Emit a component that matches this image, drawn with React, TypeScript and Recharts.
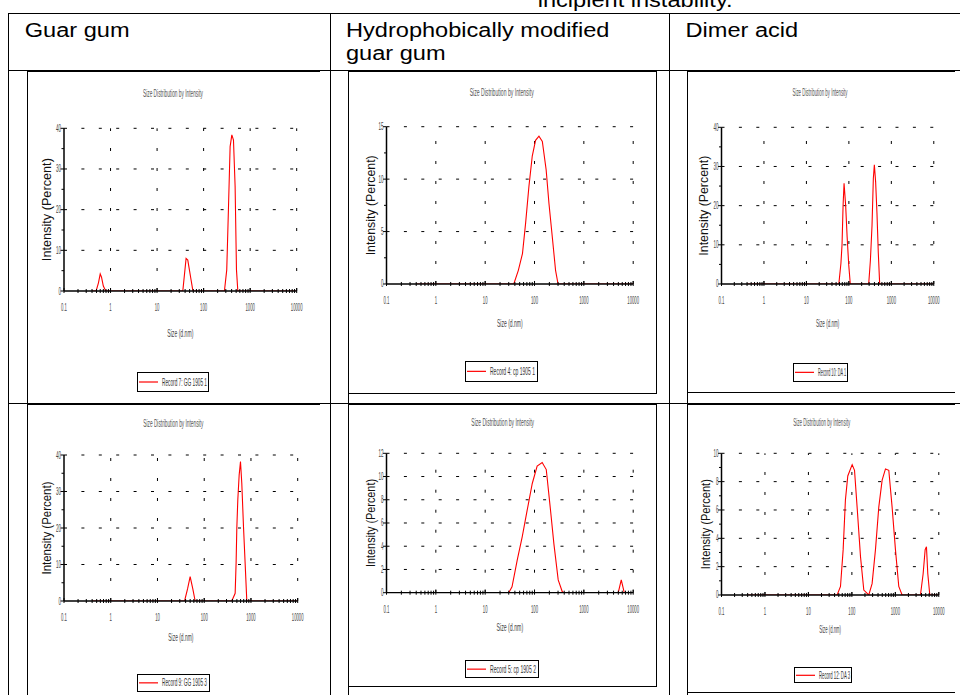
import React from 'react';
import { LineChart, Line, XAxis, YAxis, ReferenceLine, Legend } from 'recharts';

// ---------- text ----------
const captionText = 'incipient instability.';
const headerCol1 = 'Guar gum';
const headerCol2a = 'Hydrophobically modified';
const headerCol2b = 'guar gum';
const headerCol3 = 'Dimer acid';
const chartTitle = 'Size Distribution by Intensity';
const xAxisTitle = 'Size (d.nm)';
const yAxisTitle = 'Intensity (Percent)';

// ---------- ticks ----------
const xMajorTicks = [0.1, 1, 10, 100, 1000, 10000];
const xMinorTicks = [
  0.2, 0.3, 0.4, 0.5, 0.6, 0.7, 0.8, 0.9,
  2, 3, 4, 5, 6, 7, 8, 9,
  20, 30, 40, 50, 60, 70, 80, 90,
  200, 300, 400, 500, 600, 700, 800, 900,
  2000, 3000, 4000, 5000, 6000, 7000, 8000, 9000,
];
const yMajor40 = [0, 10, 20, 30, 40];
const yMinor40 = [5, 15, 25, 35];
const yMajor15 = [0, 5, 10, 15];
const yMinor15 = [2.5, 7.5, 12.5];
const yMajor12 = [0, 2, 4, 6, 8, 10, 12];
const yMajor10 = [0, 2, 4, 6, 8, 10];
const yMinor10 = [1, 3, 5, 7, 9];

// ---------- data (size d.nm, intensity %) ----------
const gg1Size = [0.4, 0.49, 0.55, 0.6, 0.64, 0.7, 0.79, 35.7, 42, 45.7, 49.5, 53.8, 58.5, 60, 280, 314, 341, 371, 404, 438, 475, 508, 543, 10000];
const gg1Intensity = [0, 0, 2, 4.2, 3.4, 1.2, 0, 0, 8, 7.6, 5.2, 2.7, 0.2, 0, 0, 5.2, 19.9, 35.5, 38.4, 37.1, 25.7, 5.2, 0, 0];

const cp1Size = [0.4, 38, 47, 57, 66, 77, 90, 105, 123, 144, 172, 196, 229, 267, 300, 10000];
const cp1Intensity = [0, 0, 1.3, 2.9, 5.8, 9.3, 12.2, 13.7, 14.1, 13.6, 10.9, 7.7, 4.5, 1.3, 0, 0];

const da1Size = [0.4, 58, 65, 69, 73, 77, 84, 91, 99, 108, 293, 321, 351, 377, 398, 427, 459, 493, 531, 10000];
const da1Intensity = [0, 0, 5.3, 10, 20, 25.7, 20, 12, 5, 0, 0, 6, 15, 27, 30.4, 26, 18, 8, 0, 0];

const gg3Size = [0.4, 38, 44, 50, 57, 64, 389, 459, 482, 498, 523, 559, 597, 637, 692, 751, 815, 10000];
const gg3Intensity = [0, 0, 3.3, 6.7, 3.3, 0, 0, 2.1, 10.8, 19.9, 27.7, 34.5, 38.2, 32.2, 20.4, 10.3, 0, 0];

const cp2Size = [0.4, 30, 35, 44.6, 56.3, 71, 90, 113, 143, 173, 211, 247, 302, 364, 393, 4977, 5728, 6590, 10000];
const cp2Intensity = [0, 0, 0.5, 2.8, 4.8, 7.1, 9.4, 10.9, 11.2, 10.6, 7.1, 4.2, 1.1, 0.1, 0, 0, 1.1, 0, 0];

const da3Size = [0.4, 45.8, 54.7, 63, 71, 80.5, 101.5, 115, 132, 158, 188, 245, 292, 349, 416, 497, 593, 707, 843, 1006, 1200, 1432, 3784, 4363, 4853, 5200, 5583, 6209, 10000];
const da3Intensity = [0, 0, 0.6, 3.2, 6.7, 8.4, 9.2, 8.8, 6.2, 2.7, 0.35, 0, 0.8, 3.2, 6.2, 8.1, 8.9, 8.8, 6.2, 3.2, 0.6, 0, 0, 1.5, 3.2, 3.4, 1.5, 0, 0];

const recordNames = [
  'Record 7: GG 1905 1',
  'Record 4: cp 1905 1',
  'Record 10: DA 1',
  'Record 9: GG 1905 3',
  'Record 5: cp 1905 2',
  'Record 12: DA 3',
];

// ---------- layout ----------
type Box = { l: number; t: number; r: number; b: number };
interface ChartSpec {
  sizes: number[];
  values: number[];
  yMax: number;
  yMajor: number[];
  yMinor: number[];
  record: string;
  box: Box;
  plot: Box;
  title: { cx: number; cy: number; w: number };
  xLab: { dy: number; w: number };
  yLab: { dx: number; w: number };
  legend: { x: number; y: number; w: number; h: number; tw: number };
}

const specs: ChartSpec[] = [
  {
    sizes: gg1Size, values: gg1Intensity, yMax: 40, yMajor: yMajor40, yMinor: yMinor40, record: recordNames[0],
    box: { l: 27, t: 71, r: 320, b: 400 }, plot: { l: 64, t: 128.3, r: 296.7, b: 291 },
    title: { cx: 173, cy: 93, w: 60 }, xLab: { dy: 42, w: 26 }, yLab: { dx: -17, w: 103 },
    legend: { x: 137, y: 372, w: 72, h: 20, tw: 45 },
  },
  {
    sizes: cp1Size, values: cp1Intensity, yMax: 15, yMajor: yMajor15, yMinor: yMinor15, record: recordNames[1],
    box: { l: 348.5, t: 71, r: 656.5, b: 393.3 }, plot: { l: 386, t: 126.7, r: 632.7, b: 284 },
    title: { cx: 501.7, cy: 92.7, w: 64 }, xLab: { dy: 40, w: 25.7 }, yLab: { dx: -16, w: 100 },
    legend: { x: 465, y: 361, w: 73, h: 20.7, tw: 45 },
  },
  {
    sizes: da1Size, values: da1Intensity, yMax: 40, yMajor: yMajor40, yMinor: yMinor40, record: recordNames[2],
    box: { l: 687.5, t: 71, r: 955, b: 392.7 }, plot: { l: 721, t: 127.3, r: 933.3, b: 284 },
    title: { cx: 820, cy: 92.7, w: 55 }, xLab: { dy: 39.3, w: 23.3 }, yLab: { dx: -17.7, w: 100 },
    legend: { x: 792.7, y: 363, w: 55.6, h: 18.7, tw: 28 },
  },
  {
    sizes: gg3Size, values: gg3Intensity, yMax: 40, yMajor: yMajor40, yMinor: yMinor40, record: recordNames[3],
    box: { l: 27, t: 404, r: 320, b: 695 }, plot: { l: 64, t: 455, r: 297.7, b: 601 },
    title: { cx: 173.3, cy: 423, w: 60 }, xLab: { dy: 36.3, w: 25 }, yLab: { dx: -17.3, w: 93 },
    legend: { x: 137.3, y: 674, w: 72.7, h: 17.7, tw: 45 },
  },
  {
    sizes: cp2Size, values: cp2Intensity, yMax: 12, yMajor: yMajor12, yMinor: [], record: recordNames[4],
    box: { l: 348.5, t: 404, r: 656.5, b: 686.7 }, plot: { l: 386, t: 453.3, r: 632.7, b: 592.7 },
    title: { cx: 502.7, cy: 422.7, w: 62.7 }, xLab: { dy: 35, w: 26.7 }, yLab: { dx: -16, w: 88 },
    legend: { x: 465, y: 660, w: 74.3, h: 18.3, tw: 46 },
  },
  {
    sizes: da3Size, values: da3Intensity, yMax: 10, yMajor: yMajor10, yMinor: yMinor10, record: recordNames[5],
    box: { l: 687.5, t: 404, r: 955, b: 692.7 }, plot: { l: 721, t: 453.3, r: 938.3, b: 595 },
    title: { cx: 821.7, cy: 422.7, w: 57 }, xLab: { dy: 35, w: 21.7 }, yLab: { dx: -16, w: 90 },
    legend: { x: 794.3, y: 666.7, w: 57.4, h: 16.6, tw: 31 },
  },
];

const FONT = '"Liberation Sans", Arial, Helvetica, sans-serif';
const Y_AXIS_W = 30;
const X_AXIS_H = 30;

const textW = (s: string, cw: number) =>
  s.split('').reduce((a, ch) => a + (ch === '.' ? cw * 0.55 : cw), 0);

function XTick(props: any) {
  const { x, y, payload } = props;
  const v = payload ? payload.value : 0;
  const major = xMajorTicks.indexOf(v) >= 0;
  const label = String(v);
  return (
    <g>
      <line x1={x} x2={x} y1={y - (major ? 3 : 2)} y2={y + 2} stroke="#000" strokeWidth={1} />
      {major && (
        <text x={x} y={y + 20} textAnchor="middle" fontSize={11} fill="#444" fontFamily={FONT}
          textLength={textW(label, 2.35)} lengthAdjust="spacingAndGlyphs">{label}</text>
      )}
    </g>
  );
}

function YTick(props: any) {
  const { x, y, payload, majors } = props;
  const v = payload ? payload.value : 0;
  const major = majors.indexOf(v) >= 0;
  const label = String(v);
  return (
    <g>
      <line x1={x - (major ? 3.5 : 2.5)} x2={x} y1={y} y2={y} stroke="#000" strokeWidth={1} />
      {major && (
        <text x={x - 3} y={y + 3.5} textAnchor="end" fontSize={10} fill="#444" fontFamily={FONT}
          textLength={textW(label, 2.5)} lengthAdjust="spacingAndGlyphs">{label}</text>
      )}
    </g>
  );
}

function LegendBox({ spec }: { spec: ChartSpec }) {
  const lg = spec.legend;
  return (
    <div style={{ width: lg.w, height: lg.h, border: '1px solid #000', boxSizing: 'border-box', background: '#fff' }}>
      <svg width={lg.w - 2} height={lg.h - 2} style={{ display: 'block', overflow: 'visible' }}>
        <line x1={1} x2={20} y1={(lg.h - 2) / 2} y2={(lg.h - 2) / 2} stroke="#ff0000" strokeWidth={1.2} />
        <text x={24} y={(lg.h - 2) / 2 + 3.5} fontSize={10} fill="#333" fontFamily={FONT}
          textLength={lg.tw} lengthAdjust="spacingAndGlyphs">{spec.record}</text>
      </svg>
    </div>
  );
}

function SizeChart({ spec }: { spec: ChartSpec }) {
  const { box, plot } = spec;
  const w = box.r - box.l;
  const h = box.b - box.t;
  const data = spec.sizes.map((s, i) => ({ size: s, intensity: spec.values[i] }));
  const margin = {
    top: plot.t - box.t,
    left: plot.l - box.l - Y_AXIS_W,
    right: box.r - plot.r,
    bottom: box.b - plot.b - X_AXIS_H,
  };
  const xTicks = [...xMajorTicks, ...xMinorTicks].sort((a, b) => a - b);
  const yTicks = [...spec.yMajor, ...spec.yMinor].sort((a, b) => a - b);
  const plotW = plot.r - plot.l;
  const plotH = plot.b - plot.t;

  const xLabel = (p: any) => {
    const vb = (p && p.viewBox) || { x: plot.l - box.l, y: plot.b - box.t, width: plotW, height: 0 };
    return (
      <text x={vb.x + vb.width / 2} y={vb.y + spec.xLab.dy + 3.5} textAnchor="middle" fontSize={11} fill="#444"
        fontFamily={FONT} textLength={spec.xLab.w} lengthAdjust="spacingAndGlyphs">{xAxisTitle}</text>
    );
  };
  const yLabel = (p: any) => {
    const vb = (p && p.viewBox) || { x: plot.l - box.l - Y_AXIS_W, y: plot.t - box.t, width: Y_AXIS_W, height: plotH };
    const cx = vb.x + (vb.width || 0) + spec.yLab.dx;
    const cy = vb.y + vb.height / 2;
    return (
      <text transform={`translate(${cx + 4},${cy}) rotate(-90)`} textAnchor="middle" fontSize={12} fill="#111"
        fontFamily={FONT} textLength={spec.yLab.w} lengthAdjust="spacingAndGlyphs">{yAxisTitle}</text>
    );
  };

  return (
    <div style={{ position: 'absolute', left: box.l, top: box.t, width: w, height: h }}>
      <LineChart width={w} height={h} data={data} margin={margin}>
        <XAxis dataKey="size" type="number" scale="log" domain={[0.1, 10000]} allowDataOverflow
          ticks={xTicks} interval={0} height={X_AXIS_H} tickSize={0} tickMargin={0} tickLine={false}
          axisLine={{ stroke: '#000', strokeWidth: 1.3 }} tick={(p: any) => <XTick {...p} />}
          label={xLabel} />
        <YAxis type="number" domain={[0, spec.yMax]} allowDataOverflow ticks={yTicks} interval={0}
          width={Y_AXIS_W} tickSize={0} tickMargin={0} tickLine={false}
          axisLine={{ stroke: '#000', strokeWidth: 1.5 }} tick={(p: any) => <YTick {...p} majors={spec.yMajor} />}
          label={yLabel} />
        {xMajorTicks.slice(1).map((v) => (
          <ReferenceLine key={'gx' + v} x={v} stroke="#000" strokeWidth={1} strokeDasharray="3 17" />
        ))}
        {spec.yMajor.slice(1).map((v) => (
          <ReferenceLine key={'gy' + v} y={v} stroke="#000" strokeWidth={1} strokeDasharray="3 14.4" />
        ))}
        <Line dataKey="intensity" type="linear" stroke="#ff0000" strokeWidth={1.1} dot={false}
          activeDot={false} isAnimationActive={false} />
        <Legend layout="horizontal" verticalAlign="middle" align="center"
          wrapperStyle={{ position: 'absolute', left: spec.legend.x - box.l, top: spec.legend.y - box.t,
            width: spec.legend.w, height: spec.legend.h, margin: 0, padding: 0 }}
          content={() => <LegendBox spec={spec} />} />
      </LineChart>
    </div>
  );
}

function HeaderText({ x, y, text }: { x: number; y: number; text: string }) {
  return (
    <text transform={`translate(${x},${y}) scale(1.21,1)`} fontSize={19.5} fill="#000" fontFamily={FONT}>
      {text}
    </text>
  );
}

export default function App() {
  const thin = { stroke: '#000', strokeWidth: 1 };
  const thick = { stroke: '#000', strokeWidth: 2 };
  return (
    <div style={{ position: 'absolute', left: 0, top: 0, width: 960, height: 695, overflow: 'hidden', background: '#fff', fontFamily: FONT }}>
      <svg width={960} height={695} style={{ position: 'absolute', left: 0, top: 0 }}>
        <text transform="translate(537.7,7) scale(1.21,1)" fontSize={19.5} fill="#000" fontFamily={FONT}>{captionText}</text>
        {/* table grid */}
        <line x1={8} x2={960} y1={13.5} y2={13.5} {...thin} />
        <line x1={8} x2={960} y1={70.5} y2={70.5} {...thin} />
        <line x1={8} x2={960} y1={403.5} y2={403.5} {...thin} />
        <line x1={8.5} x2={8.5} y1={13} y2={695} {...thin} />
        <line x1={330.5} x2={330.5} y1={13} y2={695} {...thin} />
        <line x1={669.5} x2={669.5} y1={13} y2={695} {...thin} />
        <line x1={27.5} x2={27.5} y1={70} y2={695} {...thin} />
        <line x1={348.5} x2={348.5} y1={70} y2={695} {...thin} />
        <line x1={687.5} x2={687.5} y1={70} y2={695} {...thin} />
        {/* picture frames */}
        <line x1={27} x2={320} y1={71} y2={71} {...thick} />
        <line x1={348} x2={657} y1={71} y2={71} {...thick} />
        <line x1={687} x2={955} y1={71} y2={71} {...thick} />
        <line x1={27} x2={320} y1={404} y2={404} {...thick} />
        <line x1={348} x2={657} y1={404} y2={404} {...thick} />
        <line x1={687} x2={955} y1={404} y2={404} {...thick} />
        <line x1={656.5} x2={656.5} y1={71} y2={393.5} {...thin} />
        <line x1={348} x2={657} y1={393.5} y2={393.5} {...thin} />
        <line x1={656.5} x2={656.5} y1={404} y2={687} {...thin} />
        <line x1={348} x2={657} y1={686.5} y2={686.5} {...thin} />
        <line x1={687} x2={955} y1={392.5} y2={392.5} {...thin} />
        <line x1={687} x2={955} y1={692.5} y2={692.5} {...thin} />
        {/* headers */}
        <HeaderText x={24.7} y={37.3} text={headerCol1} />
        <HeaderText x={346} y={37.3} text={headerCol2a} />
        <HeaderText x={346} y={59.5} text={headerCol2b} />
        <HeaderText x={685.5} y={37.3} text={headerCol3} />
        {/* chart titles */}
        {specs.map((s, i) => (
          <text key={'t' + i} x={s.title.cx} y={s.title.cy + 3.5} textAnchor="middle" fontSize={10} fill="#555"
            fontFamily={FONT} textLength={s.title.w} lengthAdjust="spacingAndGlyphs">{chartTitle}</text>
        ))}
      </svg>
      {specs.map((s, i) => (
        <SizeChart key={i} spec={s} />
      ))}
    </div>
  );
}
